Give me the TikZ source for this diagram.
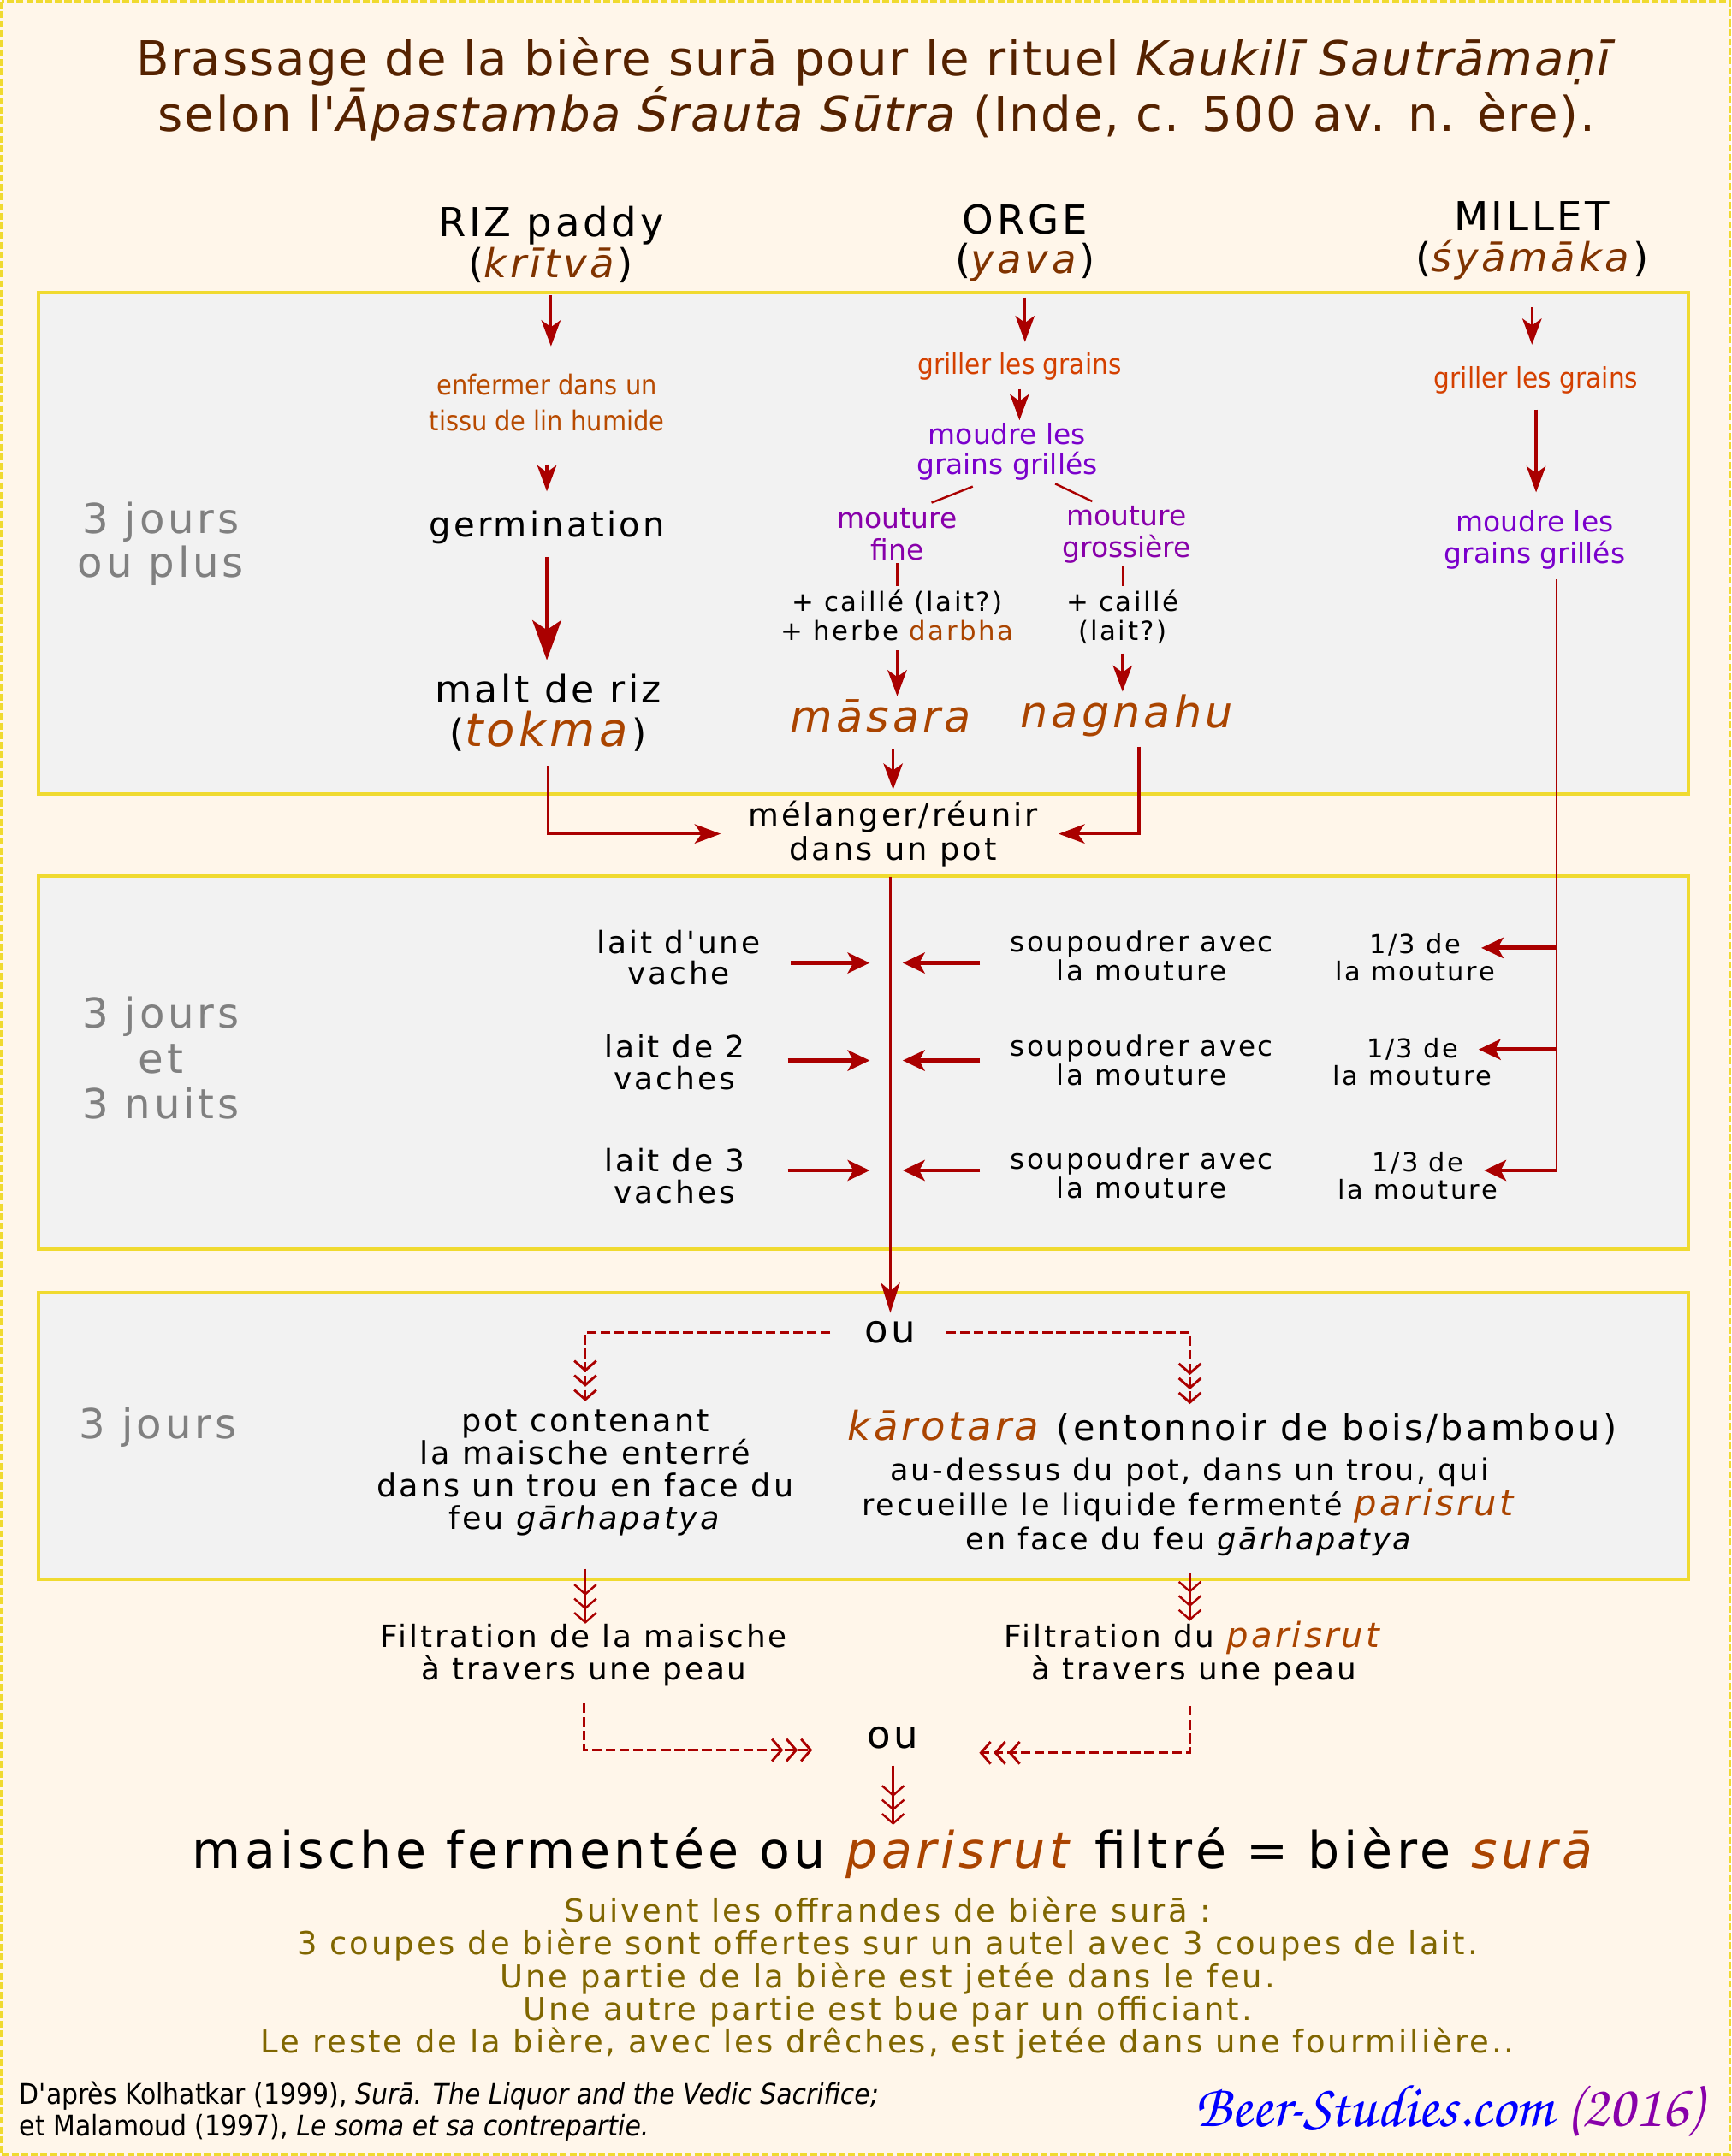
\documentclass[tikz,border=0pt]{standalone}
\usepackage{fontspec}
\setmainfont{DejaVu Sans}
\newfontfamily\ttlfont{DejaVu Sans}[LetterSpace=3]
\newfontfamily\spfont{DejaVu Sans}[LetterSpace=8]
\newfontfamily\cdfont{DejaVu Sans Condensed}
\newfontfamily\chorus{texgyrechorus-mediumitalic.otf}
\usetikzlibrary{arrows.meta}
\definecolor{cream}{HTML}{FFF6EA}
\definecolor{zonegray}{HTML}{F2F2F2}
\definecolor{zoneyel}{HTML}{F0DA30}
\definecolor{arrred}{HTML}{AA0000}
\definecolor{titlebrown}{HTML}{552200}
\definecolor{hdbrown}{HTML}{803300}
\definecolor{orng}{HTML}{AA4400}
\definecolor{enfcol}{HTML}{B84A00}
\definecolor{grcol}{HTML}{D44000}
\definecolor{violA}{HTML}{7A00CC}
\definecolor{violB}{HTML}{8800AA}
\definecolor{olive}{HTML}{806600}
\newcommand\fz[2]{\fontsize{#1}{#2}\selectfont}

\begin{document}
\begin{tikzpicture}[x=1pt,y=-1pt,
  txt/.style={inner sep=0pt,align=center},
  arr/.style={draw=arrred,line width=2pt,-{Stealth[length=19pt,width=14pt,inset=5pt]}},
  bigarr/.style={draw=arrred,line width=2.4pt,-{Stealth[length=29pt,width=21pt,inset=7pt]}},
  fatarr/.style={draw=arrred,line width=3pt,-{Stealth[length=16pt,width=15pt,inset=4pt]}},
  thin/.style={draw=arrred,line width=1.5pt},
  dashln/.style={draw=arrred,line width=1.8pt,dash pattern=on 7pt off 3pt},
  chev/.style={-{Straight Barb[length=7pt,width=16pt,sep=1.5pt]Straight Barb[length=7pt,width=16pt,sep=1.5pt]Straight Barb[length=7pt,width=16pt]}},
  zone/.style={draw=zoneyel,line width=2.5pt,fill=zonegray}]
  \useasboundingbox (0,0) rectangle (1260,1569.5);
  \fill[cream] (0,0) rectangle (1260,1569.5);
  \draw[zoneyel,line width=1.5pt,dash pattern=on 5pt off 2pt] (1,1) rectangle (1259,1568.5);
  % the three time zones
  \draw[zone] (28,213) rectangle (1229,578);
  \draw[zone] (28,638) rectangle (1229,909);
  \draw[zone] (28,941) rectangle (1229,1150);

  \node[txt,text=titlebrown,font=\ttlfont\fz{35}{41}] (title) at (638,65)
    {Brassage de la bière surā pour le rituel \textit{Kaukilī Sautrāmaṇī}\\selon l'\textit{Āpastamba Śrauta Sūtra} (Inde, c. 500 av. n. ère).};

  % grains
  \node[txt,font=\spfont\fz{29}{30}] (riz) at (401,178) {RIZ paddy\\(\textcolor{hdbrown}{\textit{krītvā}})};
  \node[txt,font=\spfont\fz{29}{29}] (orge) at (746,177) {ORGE\\(\textcolor{hdbrown}{\textit{yava}})};
  \node[txt,font=\spfont\fz{29}{30}] (millet) at (1115,175) {MILLET\\(\textcolor{hdbrown}{\textit{śyāmāka}})};

  % durations
  \node[txt,text=gray,font=\spfont\fz{30}{32}] (jA) at (117,396) {3 jours\\ou plus};
  \node[txt,text=gray,font=\spfont\fz{30}{33}] (jB) at (117,770) {3 jours\\et\\3 nuits};
  \node[txt,text=gray,font=\spfont\fz{30}{32}] (jC) at (115,1039) {3 jours};

  % rice
  \node[txt,text=enfcol,font=\cdfont\fz{20}{26}] (enf) at (398,293) {enfermer dans un\\tissu de lin humide};
  \node[txt,font=\spfont\fz{25}{26}] (germ) at (398,384) {germination};
  \node[txt,font=\spfont\fz{27.5}{32}] (malt) at (399,519) {malt de riz\\(\textcolor{orng}{\fz{34}{32}\textit{tokma}})};
  \draw[arr,shorten <=9pt,shorten >=20pt] (riz.south) -- (riz.south |- enf.north);
  \draw[arr,shorten <=24pt,shorten >=14pt] (enf.south) -- (enf.south |- germ.north);
  \draw[bigarr,shorten <=9pt,shorten >=10pt] (germ.south) -- (germ.south |- malt.north);

  % barley
  \node[txt,text=grcol,font=\cdfont\fz{20.5}{26}] (grA) at (742,267) {griller les grains};
  \node[txt,text=violA,font=\fz{20.5}{22}] (moudA) at (733,329) {moudre les\\grains grillés};
  \node[txt,text=violB,font=\fz{20.5}{23}] (mfine) at (653,389) {mouture\\fine};
  \node[txt,text=violB,font=\fz{20.5}{23}] (mgros) at (820,389) {mouture\\grossière};
  \node[txt,font=\spfont\fz{19.2}{21}] (cailA) at (653,448) {+ caillé (lait?)\\+ herbe \textcolor{orng}{darbha}};
  \node[txt,font=\spfont\fz{19.2}{21}] (cailB) at (817,449) {+ caillé\\(lait?)};
  \node[txt,text=orng,font=\spfont\fz{31.7}{32}\itshape] (masara) at (641,521) {māsara};
  \node[txt,text=orng,font=\spfont\fz{31.7}{32}\itshape] (nagnahu) at (820,521) {nagnahu};
  \draw[arr,shorten <=11pt,shorten >=8pt] (orge.south) -- (orge.south |- grA.north);
  \draw[arr,shorten <=6pt,shorten >=2pt] (grA.south) -- (grA.south |- moudA.north);
  \draw[thin] ([shift={(-25,4)}]moudA.south) -- ([shift={(25,-4)}]mfine.north);
  \draw[thin] ([shift={(35,2)}]moudA.south) -- ([shift={(-25,-3)}]mgros.north);
  \draw[thin,shorten <=2pt,shorten >=3pt] (mfine.south) -- (cailA.north);
  \draw[thin,shorten <=2pt,shorten >=3pt] (mgros.south -| cailB) -- (cailB.north);
  \draw[arr,shorten <=7pt,shorten >=2pt] (cailA.south) -- (cailA.south |- masara.north);
  \draw[arr,shorten <=7pt,shorten >=2pt] (cailB.south) -- (cailB.south |- nagnahu.north);

  % mixing
  \node[txt,font=\spfont\fz{22.9}{25}] (mel) at (650,607) {mélanger/réunir\\dans un pot};
  \draw[arr,shorten <=12pt,shorten >=8pt] (mel.north |- masara.south) -- (mel.north);
  \draw[arr,shorten <=10pt,shorten >=20pt] (malt.south) |- (mel.west);
  \draw[arr,shorten <=7pt,shorten >=15pt] ([xshift=9pt]nagnahu.south) |- (mel.east);

  % millet
  \node[txt,text=grcol,font=\cdfont\fz{20.5}{26}] (grB) at (1118,277) {griller les grains};
  \node[txt,text=violA,font=\fz{20.5}{23}] (moudB) at (1117,393) {moudre les\\grains grillés};
  \draw[arr,shorten <=20pt,shorten >=16pt] (millet.south) -- (millet.south |- grB.north);
  \draw[arr,shorten <=11pt,shorten >=13pt] (grB.south) -- (grB.south |- moudB.north);

  % milk and flour additions
  \node[txt,font=\spfont\fz{22.4}{23}] (laitA) at (494,697) {lait d'une\\vache};
  \node[txt,font=\spfont\fz{22.4}{23}] (laitB) at (491,773) {lait de 2\\vaches};
  \node[txt,font=\spfont\fz{22.4}{23}] (laitC) at (491,856) {lait de 3\\vaches};
  \node[txt,font=\spfont\fz{20.3}{21}] (soupA) at (831,696) {soupoudrer avec\\la mouture};
  \node[txt,font=\spfont\fz{20.3}{21}] (soupB) at (831,772) {soupoudrer avec\\la mouture};
  \node[txt,font=\spfont\fz{20.3}{21}] (soupC) at (831,854) {soupoudrer avec\\la mouture};
  \node[txt,font=\spfont\fz{19}{20}] (tiersA) at (1030,697) {1/3 de\\la mouture};
  \node[txt,font=\spfont\fz{19}{20}] (tiersB) at (1028,773) {1/3 de\\la mouture};
  \node[txt,font=\spfont\fz{19}{20}] (tiersC) at (1032,856) {1/3 de\\la mouture};
  \coordinate (vA) at (648,701);
  \coordinate (vB) at (648,772);
  \coordinate (vC) at (648,852);
  \coordinate (rA) at (1133,690);
  \coordinate (rB) at (1133,764);
  \coordinate (rC) at (1133,852);
  \draw[thin,shorten <=7pt] (moudB.south -| rA) -- (rC);
  \foreach \r/\s in {A/22,B/31,C/31}{
    \draw[fatarr,shorten <=\s pt,shorten >=15pt] (lait\r.east |- v\r) -- (v\r);
    \draw[fatarr,shorten <=22pt,shorten >=9pt] (soup\r.west |- v\r) -- (v\r);
    \draw[fatarr,shorten >=-10pt] (r\r) -- (tiers\r.east |- r\r);
  }

  % fermentation
  \node[txt,font=\spfont\fz{28}{28}] (ouA) at (648,970) {ou};
  \draw[thin,-{Stealth[length=22pt,width=14pt,inset=6pt]},shorten <=7pt,shorten >=6pt] (ouA.north |- mel.south) -- (ouA.north);
  \node[txt,font=\spfont\fz{22.8}{23.6}] (pot) at (426,1072) {pot contenant\\la maische enterré\\dans un trou en face du\\feu \textit{gārhapatya}};
  \node[txt,font=\spfont\fz{25.8}{26}] (karo) at (897,1039) {\textcolor{orng}{\fz{29}{26}\textit{kārotara}} (entonnoir de bois/bambou)};
  \node[txt,font=\spfont\fz{21.8}{25}] (audes) at (866,1097) {au-dessus du pot, dans un trou, qui\\recueille le liquide fermenté \textcolor{orng}{\fz{26}{25}\textit{parisrut}}\\en face du feu \textit{gārhapatya}};
  \coordinate (karin) at (audes.north |- karo.north);
  \draw[dashln,chev,shorten <=25pt,shorten >=6pt] (ouA.west) -| (pot.north);
  \draw[dashln,chev,shorten <=22pt,shorten >=4pt] (ouA.east) -| (karin);

  % filtration
  \node[txt,font=\spfont\fz{22.3}{24}] (filA) at (425,1205) {Filtration de la maische\\à travers une peau};
  \node[txt,font=\spfont\fz{22.3}{24}] (filB) at (869,1204) {Filtration du \textcolor{orng}{\fz{25}{24}\textit{parisrut}}\\à travers une peau};
  \node[txt,font=\spfont\fz{28}{28}] (ouB) at (650,1265) {ou};
  \draw[thin,chev,shorten <=24pt] (pot.south) -- (pot.south |- filA.north);
  \draw[thin,chev,shorten <=12pt] (audes.south) -- (audes.south |- filB.north);
  \draw[dashln,chev,shorten <=12pt,shorten >=40pt] (filA.south) |- ([yshift=-9pt]ouB.west);
  \draw[dashln,chev,shorten <=14pt,shorten >=44pt] (filB.south -| audes.south) |- ([yshift=-11pt]ouB.east);

  % result
  \node[txt,font=\spfont\fz{36.5}{37}] (biere) at (651,1349) {maische fermentée ou \textcolor{orng}{\textit{parisrut}} filtré = bière \textcolor{orng}{\textit{surā}}};
  \draw[thin,chev,shorten <=12pt,shorten >=2pt] (ouB.south) -- (ouB.south |- biere.north);
  \node[txt,text=olive,font=\spfont\fz{23}{23.7}] (offr) at (646,1440) {Suivent les offrandes de bière surā :\\3 coupes de bière sont offertes sur un autel avec 3 coupes de lait.\\Une partie de la bière est jetée dans le feu.\\Une autre partie est bue par un officiant.\\Le reste de la bière, avec les drêches, est jetée dans une fourmilière..};

  % sources
  \node[txt,align=left,anchor=west,font=\cdfont\fz{20.7}{23}] (src) at (14,1537) {D'après Kolhatkar (1999), \textit{Surā. The Liquor and the Vedic Sacrifice;}\\et Malamoud (1997), \textit{Le soma et sa contrepartie.}};
  \node[txt,font=\chorus\fz{44}{44}] (site) at (1054,1537) {\textcolor{blue}{Beer-Studies.com} \textcolor{violB}{(2016)}};
\end{tikzpicture}
\end{document}
